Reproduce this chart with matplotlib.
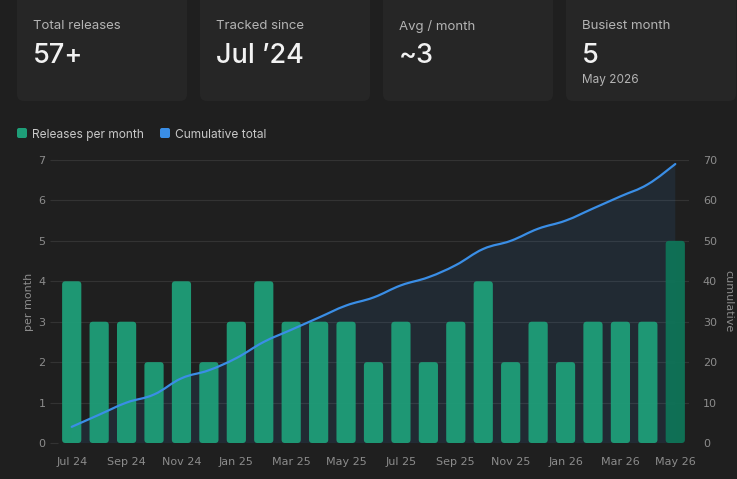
import numpy as np
import matplotlib
matplotlib.use("Agg")
import matplotlib.pyplot as plt
from matplotlib.patches import FancyBboxPatch, PathPatch
from matplotlib.path import Path

# --- data ---
months = ["Jul 24", "Aug 24", "Sep 24", "Oct 24", "Nov 24", "Dec 24",
          "Jan 25", "Feb 25", "Mar 25", "Apr 25", "May 25", "Jun 25",
          "Jul 25", "Aug 25", "Sep 25", "Oct 25", "Nov 25", "Dec 25",
          "Jan 26", "Feb 26", "Mar 26", "Apr 26", "May 26"]
releases = [4, 3, 3, 2, 4, 2, 3, 4, 3, 3, 3, 2, 3, 2, 3, 4, 2, 3, 2, 3, 3, 3, 5]
cumulative = [4, 7, 10, 12, 16, 18, 21, 25, 28, 31, 34, 36, 39, 41, 44, 48,
              50, 53, 55, 58, 61, 64, 69]
cards = [("Total releases", "57+", ""),
         ("Tracked since", "Jul \u201924", ""),
         ("Avg / month", "~3", ""),
         ("Busiest month", "5", "May 2026")]

BG = "#1f1f1f"
CARD = "#262626"
GREEN = "#1e9e78"
GREEN_DARK = "#0f7458"
BLUE = "#3a8ee6"
GRID = "#333333"
TICK = "#8c8c8c"
UI = ["Inter", "DejaVu Sans"]

W, H = 737, 479
fig = plt.figure(figsize=(W / 100, H / 100), dpi=100, facecolor=BG)

# overlay in pixel coordinates for cards + legend
ov = fig.add_axes([0, 0, 1, 1], zorder=0)
ov.set_xlim(0, W)
ov.set_ylim(H, 0)
ov.axis("off")

card_x = [17, 200, 383, 566]
for cx, (lab, val, sub) in zip(card_x, cards):
    ov.add_patch(FancyBboxPatch((cx, -10), 170, 111,
                                boxstyle="round,pad=0,rounding_size=7",
                                fc=CARD, ec="none"))
    ov.text(cx + 16, 26, lab, color="#b4b4b4", fontsize=9.5, family=UI,
            va="center", ha="left")
    ov.text(cx + 16, 55.5, val, color="#f2f2f2", fontsize=19.5, family=UI,
            va="center", ha="left", fontweight="medium")
    if sub:
        ov.text(cx + 16, 79.5, sub, color="#b4b4b4", fontsize=8.5, family=UI,
                va="center", ha="left")

# legend
for lx, col, txt in [(17, GREEN, "Releases per month"), (160, BLUE, "Cumulative total")]:
    ov.add_patch(FancyBboxPatch((lx, 128), 10, 10,
                                boxstyle="round,pad=0,rounding_size=2",
                                fc=col, ec="none"))
    ov.text(lx + 15, 135, txt, color="#c8c8c8", fontsize=8.6, family=UI,
            va="center", ha="left")

# --- main chart ---
ax = fig.add_axes([58 / W, 1 - 443 / H, (689 - 58) / W, (443 - 160) / H], zorder=1)
ax.patch.set_visible(False)
ax2 = ax.twinx()

x = np.arange(len(months))
ax.set_xlim(-0.5, len(months) - 0.5)
ax.set_ylim(0, 7)
ax2.set_ylim(0, 70)

ax.set_yticks(range(0, 8))
ax2.set_yticks(range(0, 71, 10))
ax.yaxis.grid(True, color=GRID, linewidth=0.8, zorder=0)
ax.set_axisbelow(True)

for a in (ax, ax2):
    for s in a.spines.values():
        s.set_visible(False)
ax.tick_params(axis="y", colors=GRID, labelcolor=TICK, length=6, width=0.8,
               labelsize=8, pad=3)
ax2.tick_params(axis="y", colors=GRID, labelcolor=TICK, length=0,
                labelsize=8, pad=10)
ax.tick_params(axis="x", length=0, labelcolor=TICK, labelsize=8, pad=10)
ax.set_xticks(x[::2])
ax.set_xticklabels(months[::2])

ax.set_ylabel("per month", color=TICK, fontsize=8, labelpad=3)
ax2.set_ylabel("cumulative", color=TICK, fontsize=8, rotation=270, labelpad=12)

# cumulative line: smooth bezier through points, with area fill
tr = ax2.transData
n = len(cumulative)
P = np.column_stack([x, cumulative]).astype(float)
verts = [P[0]]
codes = [Path.MOVETO]
t = 0.2
for i in range(n - 1):
    prev = P[i - 1] if i > 0 else P[i]
    nxt2 = P[i + 2] if i + 2 < n else P[i + 1]
    c1 = P[i] + t * (P[i + 1] - prev)
    c2 = P[i + 1] - t * (nxt2 - P[i])
    verts += [c1, c2, P[i + 1]]
    codes += [Path.CURVE4] * 3
line_path = Path(verts, codes)
fill_verts = verts + [(x[-1], 0), (x[0], 0), P[0]]
fill_codes = codes + [Path.LINETO, Path.LINETO, Path.CLOSEPOLY]
ax.add_patch(PathPatch(Path(fill_verts, fill_codes), transform=tr,
                       fc=BLUE, alpha=0.1, ec="none", zorder=1))

# bars
bars = ax.bar(x, releases, width=0.7, color=GREEN, zorder=2)
for i, b in enumerate(bars):
    bx, by = b.get_x(), b.get_y()
    bw, bh = b.get_width(), b.get_height()
    b.remove()
    col = GREEN_DARK if i == len(bars) - 1 else GREEN
    ax.add_patch(FancyBboxPatch((bx, by), bw, bh,
                                boxstyle="round,pad=0,rounding_size=0.12",
                                mutation_aspect=27.4 / 40.4,
                                fc=col, ec="none", alpha=0.95, zorder=2))

ax.add_patch(PathPatch(line_path, transform=tr, fc="none", ec=BLUE,
                       lw=1.6, zorder=3, capstyle="round"))

fig.savefig("out.png", dpi=100, facecolor=BG)
